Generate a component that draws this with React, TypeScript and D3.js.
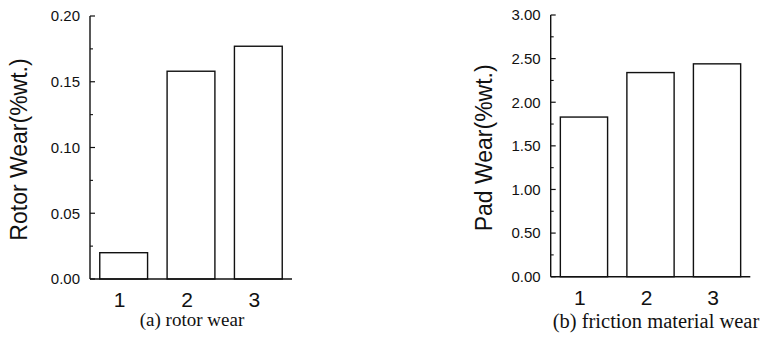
import React from "react";
import * as d3 from "d3";

const categories = [1, 2, 3];
const rotorWear = [0.02, 0.158, 0.177];
const padWear = [1.83, 2.34, 2.44];
const rotorTicks = [0, 0.05, 0.1, 0.15, 0.2];
const padTicks = [0, 0.5, 1.0, 1.5, 2.0, 2.5, 3.0];

const SANS = "'Liberation Sans', Arial, sans-serif";
const SERIF = "'Liberation Serif', 'Times New Roman', serif";

type PanelProps = {
  values: number[];
  ticks: number[];
  yMax: number;
  xRange: [number, number];
  yRange: [number, number];
  yLabel: string;
  yLabelX: number;
  caption: string;
  captionX: number;
  captionY: number;
  captionSize: number;
};

function Panel(p: PanelProps) {
  const x = d3.scaleLinear().domain([0.5, 3.5]).range(p.xRange);
  const y = d3.scaleLinear().domain([0, p.yMax]).range(p.yRange);
  const x0 = p.xRange[0];
  const step = p.ticks[1] - p.ticks[0];
  const minors = p.ticks.slice(0, -1).map((t) => t + step / 2);
  const fmt = d3.format(".2f");
  const half = 0.355;
  const yMid = (p.yRange[0] + p.yRange[1]) / 2 + 2;
  return (
    <g>
      {categories.map((c, i) => (
        <rect
          key={c}
          x={x(c - half)}
          y={y(p.values[i])}
          width={x(c + half) - x(c - half)}
          height={y(0) - y(p.values[i])}
          fill="#fff"
          stroke="#111"
          strokeWidth={1.4}
        />
      ))}
      <line x1={x0} x2={x0} y1={y(p.yMax)} y2={y(0)} stroke="#111" strokeWidth={1.4} />
      <line x1={x0} x2={p.xRange[1]} y1={y(0)} y2={y(0)} stroke="#111" strokeWidth={1.4} />
      {p.ticks.map((t) => (
        <g key={t}>
          <line x1={x0} x2={x0 + 5} y1={y(t)} y2={y(t)} stroke="#111" strokeWidth={1.2} />
          <text
            x={x0 - 10}
            y={y(t)}
            dy="0.36em"
            textAnchor="end"
            fontFamily={SANS}
            fontSize={15}
            fill="#111"
          >
            {fmt(t)}
          </text>
        </g>
      ))}
      {minors.map((t) => (
        <line key={t} x1={x0} x2={x0 + 3} y1={y(t)} y2={y(t)} stroke="#111" strokeWidth={1.1} />
      ))}
      {categories.map((c) => (
        <text
          key={c}
          x={x(c) - 4}
          y={y(0) + 28}
          textAnchor="middle"
          fontFamily={SANS}
          fontSize={21}
          fill="#111"
        >
          {c}
        </text>
      ))}
      <text
        transform={`translate(${p.yLabelX},${yMid}) rotate(-90)`}
        textAnchor="middle"
        fontFamily={SANS}
        fontSize={23}
        fill="#111"
      >
        {p.yLabel}
      </text>
      <text
        x={p.captionX}
        y={p.captionY}
        textAnchor="middle"
        fontFamily={SERIF}
        fontSize={p.captionSize}
        fill="#111"
      >
        {p.caption}
      </text>
    </g>
  );
}

export default function App() {
  return (
    <svg
      width={762}
      height={339}
      style={{ position: "absolute", left: 0, top: 0, background: "#fff" }}
    >
      <rect width={762} height={339} fill="#fff" />
      <Panel
        values={rotorWear}
        ticks={rotorTicks}
        yMax={0.2}
        xRange={[90, 292]}
        yRange={[279, 16]}
        yLabel="Rotor Wear(%wt.)"
        yLabelX={27}
        caption="(a) rotor wear"
        captionX={192}
        captionY={326}
        captionSize={19}
      />
      <Panel
        values={padWear}
        ticks={padTicks}
        yMax={3}
        xRange={[550.7, 750.3]}
        yRange={[276.7, 15]}
        yLabel="Pad Wear(%wt.)"
        yLabelX={492}
        caption="(b) friction material wear"
        captionX={656}
        captionY={328}
        captionSize={20.5}
      />
    </svg>
  );
}
